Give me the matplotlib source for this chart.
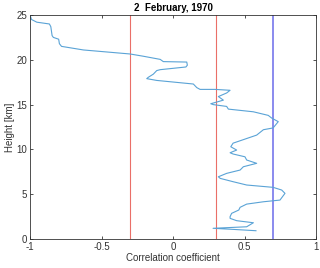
import matplotlib
matplotlib.use("Agg")
import matplotlib.pyplot as plt

plt.rcParams['font.family'] = ['Liberation Sans', 'DejaVu Sans']

# correlation profile (top to bottom)
corr = [-1.0, -0.99, -0.953, -0.865, -0.855, -0.846, -0.837, -0.80, -0.795, -0.78,
        -0.627, -0.30, -0.208, -0.09, -0.068, 0.096, 0.10, 0.09, -0.09, -0.114,
        -0.138, -0.173, -0.184, -0.114, 0.142, 0.166, 0.189, 0.294, 0.399, 0.375,
        0.317, 0.352, 0.264, 0.282, 0.375, 0.387, 0.562, 0.666, 0.69, 0.736,
        0.70, 0.632, 0.585, 0.42, 0.404, 0.445, 0.399, 0.42, 0.503, 0.515,
        0.585, 0.492, 0.469, 0.375, 0.317, 0.33, 0.42, 0.515, 0.70, 0.76,
        0.783, 0.748, 0.632, 0.515, 0.469, 0.46, 0.41, 0.399, 0.399, 0.445,
        0.562, 0.515, 0.28, 0.42, 0.58]
height = [25.0, 24.5, 24.2, 24.0, 23.7, 22.7, 22.5, 22.3, 21.8, 21.5,
          21.1, 20.65, 20.4, 20.05, 19.8, 19.75, 19.4, 19.2, 18.9, 18.8,
          18.4, 18.05, 17.9, 17.7, 17.3, 16.9, 16.7, 16.7, 16.6, 16.3,
          15.9, 15.5, 15.1, 15.0, 14.8, 14.5, 14.2, 13.8, 13.5, 13.1,
          12.4, 12.2, 11.6, 10.7, 10.3, 9.93, 9.63, 9.49, 9.18, 8.82,
          8.45, 8.07, 7.7, 7.33, 6.95, 6.77, 6.4, 6.03, 5.77, 5.47,
          5.1, 4.35, 4.16, 3.9, 3.54, 3.24, 2.87, 2.5, 2.31, 2.05,
          1.82, 1.37, 1.2, 1.08, 0.93]

red_lines = [-0.3, 0.3]
blue_line = 0.7

fig = plt.figure(figsize=(3.2, 2.68), dpi=100)
ax = fig.add_axes([0.094, 0.108, 0.8935, 0.836])

for xv in red_lines:
    ax.axvline(xv, color='#ea6f68', lw=0.8)
ax.axvline(blue_line, color='#8a8aee', lw=1.4)
ax.plot(corr, height, color='#5aa3d6', lw=0.8)

ax.set_xlim(-1, 1)
ax.set_ylim(0, 25)
ax.set_xticks([-1, -0.5, 0, 0.5, 1])
ax.set_xticklabels(['-1', '-0.5', '0', '0.5', '1'])
ax.set_yticks([0, 5, 10, 15, 20, 25])
ax.tick_params(direction='in', length=2.5, width=0.6, labelsize=7,
               colors='#333333', top=True, right=True, pad=2)
for s in ax.spines.values():
    s.set_color('#333333')
    s.set_linewidth(0.6)

ax.set_xlabel('Correlation coefficient', fontsize=7, color='#333333', labelpad=1)
ax.set_ylabel('Height [km]', fontsize=7, color='#333333', labelpad=1)
ax.set_title('2  February, 1970', fontsize=7, fontweight='bold', pad=3)

fig.savefig('out.png', dpi=100)
